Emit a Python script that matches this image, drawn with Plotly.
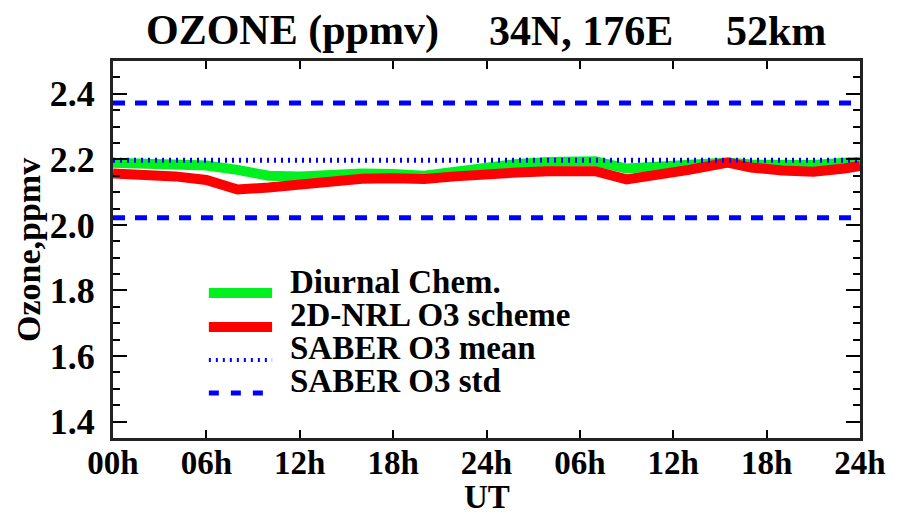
import plotly.graph_objects as go

# ---- data ----
hours = [0, 2, 4, 6, 8, 10, 12, 14, 16, 18, 20, 22, 24, 26, 28, 30, 31, 33, 35, 37, 39.5, 41, 43, 45, 47, 48]
diurnal_chem = [2.190, 2.186, 2.185, 2.181, 2.168, 2.150, 2.148, 2.155, 2.157, 2.155, 2.150, 2.162, 2.176,
                2.186, 2.192, 2.196, 2.194, 2.172, 2.177, 2.182, 2.190, 2.184, 2.183, 2.183, 2.190, 2.193]
nrl_scheme = [2.157, 2.154, 2.148, 2.137, 2.108, 2.114, 2.124, 2.134, 2.141, 2.142, 2.140, 2.148, 2.157,
              2.160, 2.164, 2.166, 2.164, 2.139, 2.150, 2.168, 2.190, 2.175, 2.166, 2.162, 2.172, 2.180]
saber_mean = 2.197
saber_std = 0.175
x_tickvals = [0, 6, 12, 18, 24, 30, 36, 42, 48]
x_ticktext = ["00h", "06h", "12h", "18h", "24h", "06h", "12h", "18h", "24h"]
y_tickvals = [1.4, 1.6, 1.8, 2.0, 2.2, 2.4]
legend_names = ["Diurnal Chem.", "2D-NRL O3 scheme", "SABER O3 mean", "SABER O3 std"]

FONT = "Liberation Serif"
BLUE = "#0000ff"
GREEN = "#00f020"
RED = "#ff0000"

fig = go.Figure()
fig.add_trace(go.Scatter(x=hours, y=diurnal_chem, mode="lines",
                         line=dict(color=GREEN, width=10), showlegend=False))
fig.add_trace(go.Scatter(x=hours, y=nrl_scheme, mode="lines",
                         line=dict(color=RED, width=10), showlegend=False))
xr = [hours[0], hours[-1]]
fig.add_trace(go.Scatter(x=xr, y=[saber_mean] * 2, mode="lines",
                         line=dict(color=BLUE, width=5, dash="2px,5px"), showlegend=False))
for s in (1, -1):
    fig.add_trace(go.Scatter(x=xr, y=[saber_mean + s * saber_std] * 2, mode="lines",
                             line=dict(color=BLUE, width=5, dash="12px,10px"), showlegend=False))

# ---- manual legend (paper coords) ----
W, H = 898, 515
L, R, T, B = 113, 29, 61, 77
pw, ph = W - L - R, H - T - B


def px(x):
    return (x - L) / pw


def py(y):
    return (H - B - y) / ph


leg_styles = [dict(color=GREEN, width=10), dict(color=RED, width=10),
              dict(color=BLUE, width=4, dash="2px,5px"), dict(color=BLUE, width=5, dash="10px,12px")]
line_y = [293, 327, 360, 393]
text_y = [282, 315, 348, 381]
for name, st, ly, ty in zip(legend_names, leg_styles, line_y, text_y):
    fig.add_shape(type="line", xref="paper", yref="paper", x0=px(210), x1=px(274), y0=py(ly), y1=py(ly),
                  line=st)
    fig.add_annotation(xref="paper", yref="paper", x=px(290), y=py(ty), text=f"<b>{name}</b>",
                       showarrow=False, xanchor="left", yanchor="middle",
                       font=dict(family=FONT, size=33, color="black"))

# ---- titles ----
for txt, cx in [("OZONE (ppmv)", 295), ("34N, 176E", 587), ("52km", 784)]:
    fig.add_annotation(xref="paper", yref="paper", x=px(cx), y=py(31), text=f"<b>{txt}</b>",
                       showarrow=False, xanchor="center", yanchor="middle",
                       font=dict(family=FONT, size=42, color="black"))
fig.add_annotation(xref="paper", yref="paper", x=px(491), y=py(497), text="<b>UT</b>",
                   showarrow=False, xanchor="center", yanchor="middle",
                   font=dict(family=FONT, size=33, color="black"))
fig.add_annotation(xref="paper", yref="paper", x=px(27), y=py(250), text="<b>Ozone,ppmv</b>",
                   showarrow=False, xanchor="center", yanchor="middle", textangle=-90,
                   font=dict(family=FONT, size=34, color="black"))

fig.update_layout(
    width=W, height=H, margin=dict(l=L, r=R, t=T, b=B),
    paper_bgcolor="white", plot_bgcolor="white",
    font=dict(family=FONT, size=30, color="black"),
    showlegend=False,
)
fig.update_xaxes(range=[0, 48], tickvals=x_tickvals, ticktext=[f"<b>{t}</b>" for t in x_ticktext],
                 ticks="inside", ticklen=8, tickwidth=2, tickcolor="black",
                 showline=True, linewidth=3, linecolor="#222", mirror="ticks",
                 showgrid=False, zeroline=False, ticklabelstandoff=-7,
                 tickfont=dict(family=FONT, size=33, color="black"))
fig.update_yaxes(range=[1.35, 2.5], tickvals=y_tickvals,
                 ticktext=[f"<b>{v:.1f}</b>" for v in y_tickvals],
                 ticks="inside", ticklen=14, tickwidth=2, tickcolor="black",
                 minor=dict(dtick=0.05, tick0=0, ticks="inside", ticklen=7, tickwidth=2, tickcolor="black"),
                 showline=True, linewidth=3, linecolor="#222", mirror="ticks",
                 showgrid=False, zeroline=False, ticklabelstandoff=8,
                 tickfont=dict(family=FONT, size=36, color="black"))

fig.write_html("out.html")
